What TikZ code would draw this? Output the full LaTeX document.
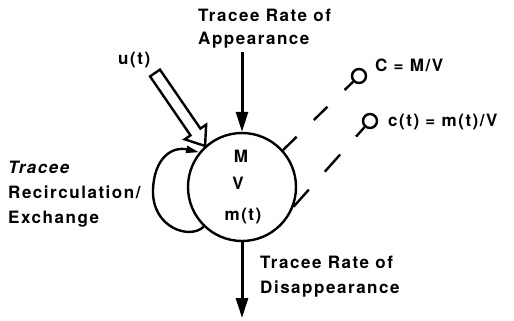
\documentclass[tikz,border=0pt]{standalone}
\usepackage{fontspec}
\setmainfont{TeX Gyre Heros}
\newfontfamily\hvfont[LetterSpace=9]{TeX Gyre Heros}
\usetikzlibrary{arrows.meta,calc}
\newcommand\lblfont{\hvfont\fontsize{17}{19}\selectfont\bfseries}
\tikzset{
  lbl/.style={font=\lblfont, inner sep=0pt, anchor=base west},
  ctr/.style={font=\lblfont, inner sep=0pt, anchor=base},
  lw/.style={line width=2.4pt},
  flow/.style={line width=3pt, -{Triangle[length=20pt,width=12pt]}},
  probe/.style={draw, circle, lw, minimum size=14pt, inner sep=0pt},
  sample/.style={lw},
}
\begin{document}
\begin{tikzpicture}[x=1pt,y=-1pt]
\useasboundingbox (0,0) rectangle (514,321);
% main pool
\node[draw, circle, lw, minimum size=108pt, inner sep=0pt] (pool) at (242,187) {};
\node[ctr] (M) at (241,162) {M};
\node[ctr] (V) at (238,189) {V};
\node[ctr] (mt) at (243,220) {m(t)};
% labels
\node[lbl] (ta1) at (198,22) {Tracee Rate of};
\node[lbl] (ta2) at (198,45) {Appearance};
\node[lbl] (td1) at (260,268) {Tracee Rate of};
\node[lbl] (td2) at (260,293) {Disappearance};
\node[lbl] (ut) at (118,65) {u(t)};
\node[lbl] (tr1) at (8,173) {\itshape Tracee};
\node[lbl] (tr2) at (8,198) {Recirculation/};
\node[lbl] (tr3) at (8,223) {Exchange};
\node[lbl] (cl1) at (375,72) {C = M/V};
\node[lbl] (cl2) at (388,126) {c(t) = m(t)/V};
% probes
\node[probe] (p1) at (359,76) {};
\node[probe] (p2) at (370,121) {};
% appearance and disappearance
\coordinate (topstart) at (242,52);
\coordinate (botend) at (242,318);
\draw[flow] (topstart) -- (pool.north);
\draw[flow] (pool.south) -- (botend);
% exogenous input u(t): hollow double arrow
\coordinate (us) at (155,73);
\coordinate (ue) at (pool.132);
\coordinate (ub) at ($(ue)!17pt!(us)$);
\draw[lw, line join=miter, fill=white]
  ($(us)!6pt!90:(ue)$) -- ($(ub)!6pt!-90:(us)$) -- ($(ub)!13pt!-90:(us)$) -- (ue)
  -- ($(ub)!13pt!90:(us)$) -- ($(ub)!6pt!90:(us)$) -- ($(us)!6pt!-90:(ue)$) -- cycle;
% recirculation loop
\draw[lw, -{Triangle[length=13pt,width=7pt]}] (pool.226)
  .. controls (190,240) and (152,228) .. (153,190)
  .. controls (154,158) and (172,146) .. (pool.141);
% sampling lines
\draw[sample, dash pattern=on 19pt off 24pt] (pool.42) -- (p1);
\draw[sample, dash pattern=on 23pt off 24pt] (pool.-21) -- (p2);
\end{tikzpicture}
\end{document}
